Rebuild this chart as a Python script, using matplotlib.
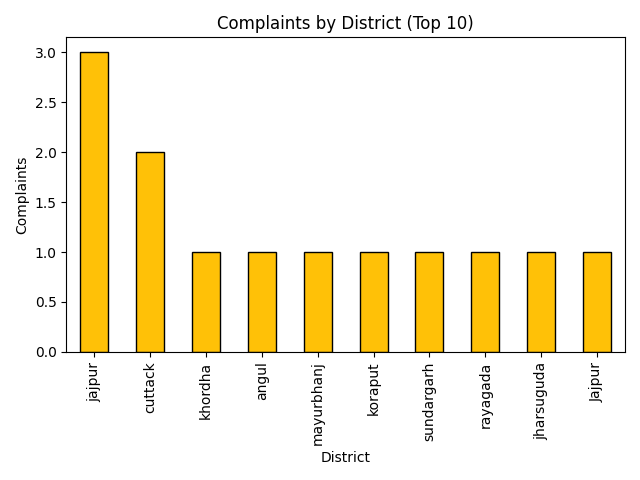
import matplotlib
matplotlib.use('Agg')
import matplotlib.pyplot as plt
import numpy as np

districts = ['jajpur', 'cuttack', 'khordha', 'angul', 'mayurbhanj',
             'koraput', 'sundargarh', 'rayagada', 'jharsuguda', 'Jajpur']
complaints = [3, 2, 1, 1, 1, 1, 1, 1, 1, 1]

fig, ax = plt.subplots(figsize=(6.4, 4.8), dpi=100)
x = np.arange(len(districts))
ax.bar(x, complaints, width=0.5, color='#FFC107', edgecolor='black')
ax.set_xticks(x)
ax.set_xticklabels(districts, rotation=90)
ax.set_xlim(-0.5, len(districts) - 0.5)
ax.set_title('Complaints by District (Top 10)')
ax.set_xlabel('District')
ax.set_ylabel('Complaints')
fig.tight_layout()
fig.savefig('out.png')
